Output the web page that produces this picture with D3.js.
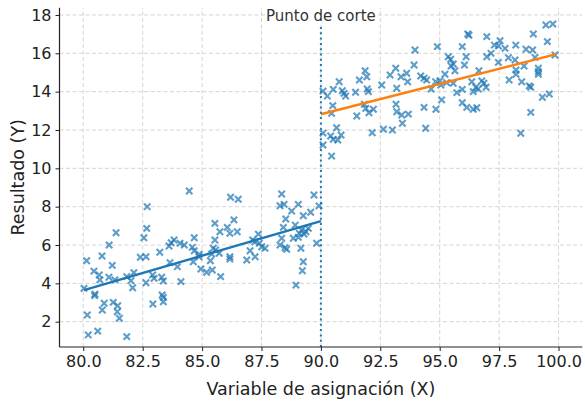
<!DOCTYPE html>
<html>
<head>
<meta charset="utf-8">
<script src="https://cdn.jsdelivr.net/npm/d3@7"></script>
<style>
  body { margin: 0; background: #fff; }
  svg { display: block; font-family: "DejaVu Sans", sans-serif; }
</style>
</head>
<body>
<div id="chart"></div>
<script>
// puntos a la izquierda del corte (X < 90)
var leftX = [81.38, 81.09, 80.14, 80.79, 81.22, 80.45, 80.67, 80.70, 81.08, 81.33, 81.83, 82.01, 82.08, 82.13, 82.40, 82.55, 82.67, 82.69, 82.64, 82.64,
  80.03, 80.49, 80.48, 80.88, 80.80, 81.26, 81.45, 81.43, 81.52, 80.17, 80.21, 80.61, 81.83,
  84.46, 86.20, 86.52, 85.54, 86.34, 86.06, 85.75, 86.17, 86.48, 85.54, 84.67, 83.82, 83.70, 83.61, 84.07, 84.25, 84.59, 84.67,
  84.88, 84.87, 85.47, 85.57, 85.72, 85.40, 86.17, 86.17, 83.22, 83.65, 83.96, 84.63, 85.35, 84.95, 85.19, 85.43, 85.78,
  82.92, 82.98, 83.30, 83.37, 84.11, 83.32, 83.37, 83.37, 82.93,
  88.35, 88.28, 88.45, 89.05, 89.71, 89.92, 88.77, 89.57, 89.26, 88.52, 88.42, 88.92, 89.19, 89.47, 89.09, 89.05, 88.84, 89.29,
  89.37, 88.35, 88.28, 88.49, 88.56, 89.16, 89.82, 89.26, 89.22, 88.95, 87.37, 87.13, 87.23, 87.41, 87.51, 87.65, 87.02, 87.23, 86.88];
var leftY = [6.64, 6.00, 5.18, 5.43, 4.94, 4.64, 4.44, 4.18, 4.32, 4.18, 4.35, 4.14, 3.77, 4.56, 5.36, 6.38, 6.87, 8.00, 5.39, 4.03,
  3.74, 3.44, 3.36, 2.96, 2.61, 3.01, 2.83, 2.52, 2.18, 2.35, 1.31, 1.51, 1.22,
  8.82, 8.49, 8.39, 7.13, 7.31, 6.92, 6.69, 6.61, 6.69, 6.26, 6.38, 6.26, 6.12, 5.95, 6.09, 6.00, 5.88, 5.70,
  5.52, 5.39, 5.83, 5.74, 5.57, 5.53, 5.39, 5.27, 5.62, 5.08, 4.87, 5.13, 5.18, 4.75, 4.58, 4.70, 4.35,
  4.44, 4.26, 4.32, 4.12, 4.09, 3.39, 3.27, 3.04, 2.92,
  8.66, 8.05, 8.12, 8.12, 8.61, 8.04, 7.77, 7.71, 7.53, 7.36, 6.92, 7.04, 6.78, 6.87, 6.61, 6.40, 6.35, 6.57,
  6.69, 6.35, 6.00, 5.86, 5.78, 5.83, 6.09, 5.13, 4.66, 3.91, 6.57, 6.26, 6.17, 6.09, 5.91, 5.83, 5.70, 5.39, 5.22];

// puntos a la derecha del corte (X >= 90)
var rightX = [91.86, 91.93, 91.62, 90.77, 90.52, 90.09, 90.27, 90.90, 90.97, 91.04, 91.46, 91.95, 92.00, 90.50, 90.45, 91.83, 91.89, 92.21, 92.02, 91.51,
  90.66, 90.41, 90.52, 90.71, 90.85, 92.16, 92.63, 93.01, 90.09, 90.09, 90.45, 92.56, 92.91, 93.15, 93.19, 93.37, 93.16, 93.19, 93.40, 93.43,
  96.18, 96.23, 96.98, 93.96, 94.90, 95.95, 97.30, 95.36, 95.46, 96.11, 96.98, 97.16, 93.92, 95.57, 96.04, 95.48, 95.64, 96.65, 95.22, 93.61,
  94.20, 94.34, 94.45, 93.65, 94.83, 95.01, 95.05, 95.29, 95.57, 96.35, 96.77, 96.86, 96.52, 96.62, 96.95, 94.64, 95.95, 95.72, 96.41, 95.08,
  95.95, 96.14, 96.41, 96.56, 94.34, 94.84, 93.68, 94.41,
  99.47, 99.76, 98.94, 99.53, 97.54, 97.47, 97.75, 98.20, 98.63, 98.91, 99.85, 99.01, 97.89, 98.17, 97.47, 99.15, 98.55, 99.15, 99.15, 98.21,
  98.21, 97.92, 98.45, 98.77, 98.83, 99.61, 99.32, 98.83, 98.41];
var rightY = [15.09, 14.78, 14.61, 14.52, 14.12, 14.03, 13.77, 14.05, 13.91, 13.77, 13.97, 14.14, 14.00, 13.27, 12.87, 13.34, 13.13, 13.08, 12.90, 12.73,
  12.12, 11.69, 11.51, 11.48, 11.74, 11.86, 12.04, 12.00, 11.84, 11.22, 10.64, 14.35, 14.87, 15.22, 14.18, 14.78, 13.34, 12.95, 12.78, 12.35,
  17.01, 16.94, 16.87, 16.17, 16.35, 16.35, 16.43, 15.82, 15.69, 15.82, 15.82, 16.00, 15.39, 15.44, 15.39, 15.34, 15.09, 15.09, 14.91, 14.96,
  14.82, 14.70, 14.61, 14.52, 14.52, 14.57, 14.35, 14.47, 14.44, 14.52, 14.56, 14.44, 14.23, 14.14, 14.23, 14.14, 14.12, 13.95, 14.00, 13.57,
  13.42, 13.18, 13.08, 13.16, 13.18, 13.08, 12.83, 12.09,
  17.48, 17.53, 17.01, 16.61, 16.66, 16.38, 16.26, 16.43, 16.21, 16.17, 15.91, 15.79, 15.77, 15.65, 15.53, 15.22, 15.34, 15.04, 14.91, 15.13,
  14.91, 14.61, 14.52, 14.30, 14.23, 13.88, 13.71, 12.92, 11.83];

// rectas ajustadas (extremos)
var fitLeftX = [80.03, 90.0];
var fitLeftY = [3.65, 7.25];
var fitRightX = [90.0, 99.9];
var fitRightY = [12.82, 15.96];

var cutoff = 90;
var cutoffLabel = "Punto de corte";
var xTicks = [80, 82.5, 85, 87.5, 90, 92.5, 95, 97.5, 100];
var yTicks = [2, 4, 6, 8, 10, 12, 14, 16, 18];
var xTitle = "Variable de asignación (X)";
var yTitle = "Resultado (Y)";

var W = 585, H = 401;
var margin = {top: 7.7, right: 2.7, bottom: 54, left: 59.5};

var svg = d3.select("#chart").append("svg")
  .attr("width", W)
  .attr("height", H);

var xScale = d3.scaleLinear().domain([79, 101]).range([margin.left, W - margin.right]);
var yScale = d3.scaleLinear().domain([0.68, 18.38]).range([H - margin.bottom, margin.top]);

//************************************************************
// grid
//************************************************************
var grid = svg.append("g").attr("class", "grid");
grid.selectAll(".gx").data(xTicks).enter().append("line")
  .attr("x1", d => xScale(d)).attr("x2", d => xScale(d))
  .attr("y1", yScale.range()[0]).attr("y2", yScale.range()[1])
  .attr("stroke", "#cfcfcf").attr("stroke-width", 0.9).attr("stroke-dasharray", "4,2.5");
grid.selectAll(".gy").data(yTicks).enter().append("line")
  .attr("y1", d => yScale(d)).attr("y2", d => yScale(d))
  .attr("x1", xScale.range()[0]).attr("x2", xScale.range()[1])
  .attr("stroke", "#cfcfcf").attr("stroke-width", 0.9).attr("stroke-dasharray", "4,2.5");

//************************************************************
// scatter (marcadores x)
//************************************************************
var pts = [];
leftX.forEach(function(x, i){ pts.push({x: x, y: leftY[i]}); });
rightX.forEach(function(x, i){ pts.push({x: x, y: rightY[i]}); });

var s = 3.2;
svg.append("g").selectAll("path.pt").data(pts).enter().append("path")
  .attr("class", "pt")
  .attr("transform", d => "translate(" + xScale(d.x) + "," + yScale(d.y) + ")")
  .attr("d", "M" + (-s) + "," + (-s) + "L" + s + "," + s + "M" + (-s) + "," + s + "L" + s + "," + (-s))
  .attr("stroke", "#1f77b4")
  .attr("stroke-opacity", 0.72)
  .attr("stroke-width", 2.1)
  .attr("fill", "none");

//************************************************************
// rectas de regresion
//************************************************************
var line = d3.line().x(d => xScale(d[0])).y(d => yScale(d[1]));

svg.append("path")
  .attr("d", line(d3.zip(fitLeftX, fitLeftY)))
  .attr("stroke", "#1f77b4").attr("stroke-width", 2.4).attr("fill", "none");
svg.append("path")
  .attr("d", line(d3.zip(fitRightX, fitRightY)))
  .attr("stroke", "#ff7f0e").attr("stroke-width", 2.4).attr("fill", "none");

// linea del corte
svg.append("line")
  .attr("x1", xScale(cutoff)).attr("x2", xScale(cutoff))
  .attr("y1", yScale.range()[0]).attr("y2", yScale.range()[1])
  .attr("stroke", "#1f77b4").attr("stroke-width", 2)
  .attr("stroke-dasharray", "2,3.3");

var lbl = svg.append("text")
  .attr("x", xScale(cutoff)).attr("y", 21)
  .attr("text-anchor", "middle")
  .attr("font-size", 15)
  .attr("fill", "#333")
  .text(cutoffLabel);
var bb = lbl.node().getBBox();
svg.insert("rect", "text")
  .attr("x", bb.x - 1).attr("y", bb.y + 1)
  .attr("width", bb.width + 2).attr("height", bb.height - 1)
  .attr("fill", "#fff");

//************************************************************
// ejes
//************************************************************
var xAxis = d3.axisBottom(xScale).tickValues(xTicks).tickFormat(d3.format(".1f"))
  .tickSize(4).tickPadding(5);
var yAxis = d3.axisLeft(yScale).tickValues(yTicks).tickFormat(d3.format("d"))
  .tickSize(4).tickPadding(4);

var gX = svg.append("g")
  .attr("transform", "translate(0," + (H - margin.bottom) + ")")
  .call(xAxis);
var gY = svg.append("g")
  .attr("transform", "translate(" + margin.left + ",0)")
  .call(yAxis);

[gX, gY].forEach(function(g){
  g.select(".domain").attr("stroke", "#222").attr("stroke-width", 1.2);
  g.selectAll(".tick line").attr("stroke", "#222");
  g.selectAll(".tick text").attr("font-size", 16).attr("fill", "#222")
    .attr("font-family", "DejaVu Sans, sans-serif");
});
gX.select(".domain").attr("d", "M" + xScale.range()[0] + ",0H" + xScale.range()[1]);
gY.select(".domain").attr("d", "M0," + yScale.range()[0] + "V" + yScale.range()[1]);

svg.append("text")
  .attr("x", (xScale.range()[0] + xScale.range()[1]) / 2)
  .attr("y", 395)
  .attr("text-anchor", "middle")
  .attr("font-size", 17.5)
  .attr("fill", "#222")
  .text(xTitle);

svg.append("text")
  .attr("transform", "translate(24," + ((yScale.range()[0] + yScale.range()[1]) / 2) + ") rotate(-90)")
  .attr("text-anchor", "middle")
  .attr("font-size", 17.5)
  .attr("fill", "#222")
  .text(yTitle);
</script>
</body>
</html>
